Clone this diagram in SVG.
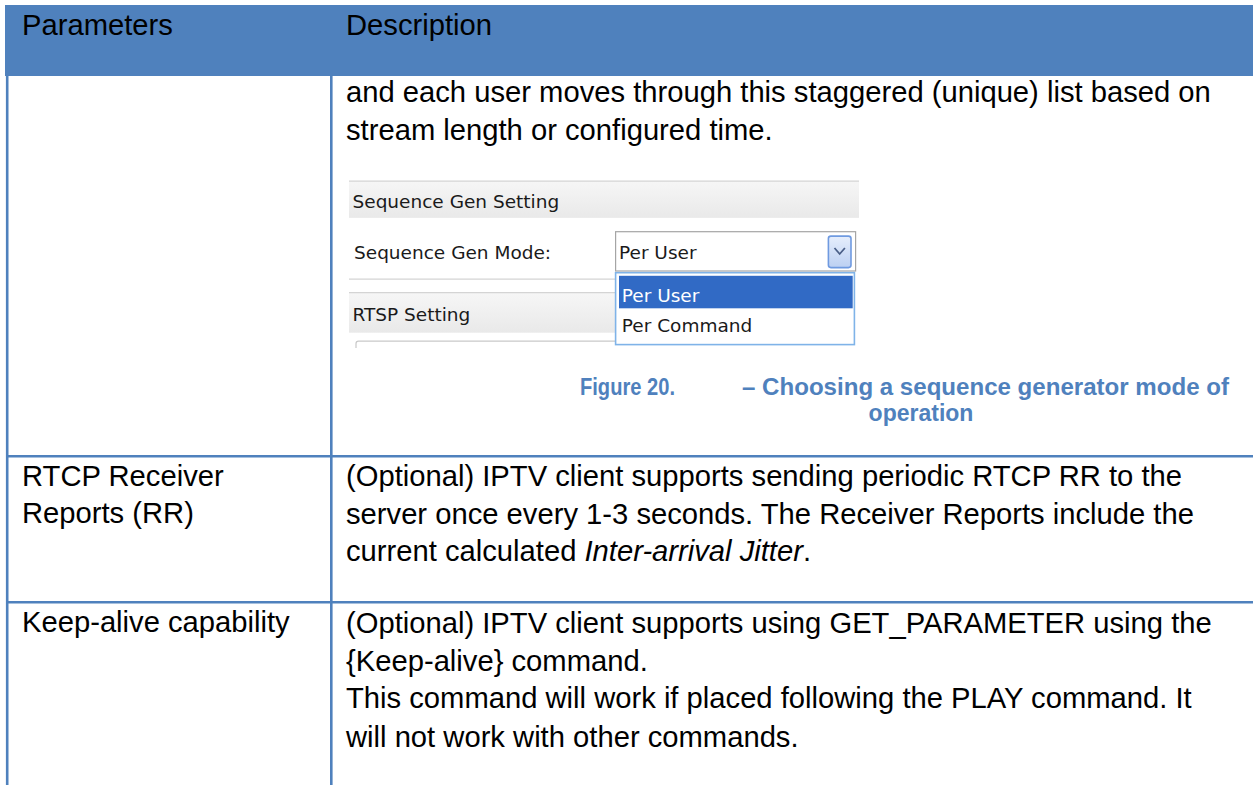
<svg xmlns="http://www.w3.org/2000/svg" width="1253" height="785" viewBox="0 0 1253 785">
  <style>
    .body { font-family: "Liberation Sans", Arial, sans-serif; font-size: 29.2px; fill: #000; }
    .grid { stroke: #4f81bd; stroke-width: 2.6; fill: none; }
    .ui { font-family: "DejaVu Sans", Tahoma, sans-serif; font-size: 18.5px; fill: #1a1a1a; }
    .cap { font-family: "Liberation Sans", Arial, sans-serif; font-size: 23px; font-weight: bold; fill: #4f81bd; }
    .sep { stroke: #d4d4d4; stroke-width: 1.2; }
  </style>
  <defs>
    <linearGradient id="band" x1="0" y1="0" x2="0" y2="1">
      <stop offset="0" stop-color="#f6f6f6"/>
      <stop offset="1" stop-color="#e9e9e9"/>
    </linearGradient>
    <linearGradient id="btn" x1="0" y1="0" x2="0" y2="1">
      <stop offset="0" stop-color="#e6eefc"/>
      <stop offset="1" stop-color="#bcd0f2"/>
    </linearGradient>
  </defs>

  <rect width="1253" height="785" fill="#ffffff"/>

  <!-- header row -->
  <g id="header">
    <rect x="5" y="5" width="1248" height="71" fill="#4f81bd"/>
    <text class="body" x="22" y="35">Parameters</text>
    <text class="body" x="346" y="35">Description</text>
  </g>

  <!-- table rules -->
  <g id="grid">
    <line class="grid" x1="7.2" y1="75" x2="7.2" y2="785"/>
    <line class="grid" x1="331.3" y1="75" x2="331.3" y2="785"/>
    <line class="grid" x1="6" y1="456.3" x2="1253" y2="456.3"/>
    <line class="grid" x1="6" y1="602.3" x2="1253" y2="602.3"/>
  </g>

  <!-- row: sequence generator (continued) -->
  <g id="row-sequence">
    <text class="body" x="346" y="102.3">and each user moves through this staggered (unique) list based on</text>
    <text class="body" x="346" y="140.3">stream length or configured time.</text>

    <!-- settings panel capture -->
    <g id="settings-panel">
      <rect x="349" y="181.2" width="510" height="36.3" fill="url(#band)"/>
      <line class="sep" x1="349" y1="181.2" x2="859" y2="181.2"/>
      <line x1="349" y1="217.5" x2="859" y2="217.5" stroke="#ececec" stroke-width="1"/>
      <text class="ui" x="352.5" y="208">Sequence Gen Setting</text>

      <text class="ui" x="354" y="258.8">Sequence Gen Mode:</text>
      <rect x="615.6" y="231.7" width="240" height="39.3" fill="#ffffff" stroke="#a5a5a5" stroke-width="1.2"/>
      <text class="ui" x="619" y="258.8">Per User</text>
      <rect x="828.4" y="236.1" width="22.6" height="31.5" rx="2.5" fill="url(#btn)" stroke="#6f9ae0" stroke-width="1.6"/>
      <polyline points="834.5,248 839.7,254 844.9,248" fill="none" stroke="#4a5f87" stroke-width="1.8"/>

      <line class="sep" x1="349" y1="279.2" x2="615.6" y2="279.2"/>

      <rect x="349" y="292.7" width="266.6" height="40" fill="url(#band)"/>
      <line class="sep" x1="349" y1="292.7" x2="615.6" y2="292.7"/>
      <text class="ui" x="352.5" y="320.8">RTSP Setting</text>

      <path d="M356,348 L356,343.7 Q356,341.2 358.5,341.2 L615.6,341.2" fill="none" stroke="#c9c9c9" stroke-width="1.2"/>

      <!-- open dropdown list -->
      <rect x="615.6" y="272.7" width="238.8" height="71.9" fill="#ffffff" stroke="#7fb3e8" stroke-width="1.6"/>
      <rect x="619" y="275.8" width="233.7" height="32.5" fill="#316ac5"/>
      <text class="ui" x="621.8" y="301.5" style="fill:#ffffff">Per User</text>
      <text class="ui" x="621.8" y="332">Per Command</text>
    </g>

    <g id="caption">
      <text class="cap" x="580" y="394.7" textLength="95" lengthAdjust="spacingAndGlyphs">Figure 20.</text>
      <text class="cap" x="742" y="394.7" textLength="487" lengthAdjust="spacingAndGlyphs">– Choosing a sequence generator mode of</text>
      <text class="cap" x="921" y="421" text-anchor="middle">operation</text>
    </g>
  </g>

  <!-- row: RTCP receiver reports -->
  <g id="row-rtcp">
    <text class="body" x="22" y="485.7">RTCP Receiver</text>
    <text class="body" x="22" y="523.3">Reports (RR)</text>
    <text class="body" x="346" y="486">(Optional) IPTV client supports sending periodic RTCP RR to the</text>
    <text class="body" x="346" y="523.5">server once every 1-3 seconds. The Receiver Reports include the</text>
    <text class="body" x="346" y="561">current calculated <tspan font-style="italic">Inter-arrival Jitter</tspan>.</text>
  </g>

  <!-- row: keep-alive -->
  <g id="row-keepalive">
    <text class="body" x="22" y="631.7">Keep-alive capability</text>
    <text class="body" x="346" y="632.6">(Optional) IPTV client supports using GET_PARAMETER using the</text>
    <text class="body" x="346" y="670.6">{Keep-alive} command.</text>
    <text class="body" x="346" y="708.4">This command will work if placed following the PLAY command. It</text>
    <text class="body" x="346" y="746.6">will not work with other commands.</text>
  </g>
</svg>
